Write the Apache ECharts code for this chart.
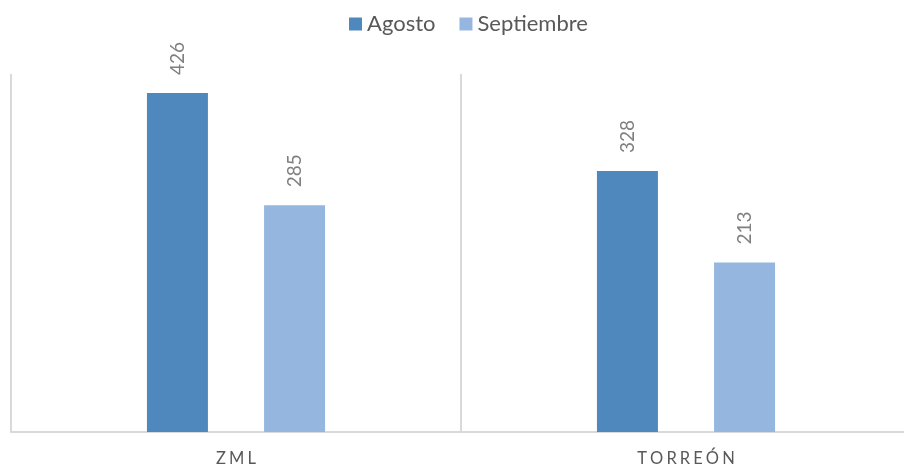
<!DOCTYPE html>
<html><head><meta charset="utf-8">
<script src="https://cdn.jsdelivr.net/npm/echarts@6/dist/echarts.min.js"></script>
<style>html,body{margin:0;padding:0;background:#fff}#c{width:904px;height:470px}</style>
</head><body><div id="c"></div>
<script>
const categories = ['ZML', 'TORREÓN'];
const agosto = [426, 328];
const septiembre = [285, 213];
const seriesNames = ['Agosto', 'Septiembre'];

const chart = echarts.init(document.getElementById('c'));
const labelStyle = {
  show: true, position: 'top', rotate: 90, align: 'left', verticalAlign: 'middle',
  distance: 18, color: '#7f7f7f', fontSize: 19, fontFamily: 'Lato'
};
chart.setOption({
  animation: false,
  textStyle: { fontFamily: 'Lato' },
  legend: {
    top: 8, left: 344, itemWidth: 13, itemHeight: 13, itemGap: 24,
    icon: 'rect',
    textStyle: { color: '#595959', fontSize: 22, fontFamily: 'Lato' },
    data: seriesNames
  },
  grid: { left: 11, width: 900, top: 74, bottom: 38, containLabel: false, outerBoundsMode: 'none' },
  xAxis: {
    type: 'category', data: categories,
    axisLine: { show: true, lineStyle: { color: '#d9d9d9', width: 2 } },
    axisTick: { show: false },
    splitLine: { show: true, lineStyle: { color: '#d9d9d9', width: 2 } },
    axisLabel: { color: '#595959', fontSize: 16.5, margin: 18, fontFamily: 'Lato',
      formatter: v => v.split('').join('\u2009\u200A') }
  },
  yAxis: {
    type: 'value', min: 0, max: 450, show: false,
    splitLine: { show: false }
  },
  series: [
    { name: seriesNames[0], type: 'bar', data: agosto, barWidth: 61, barGap: '92%',
      itemStyle: { color: '#4F88BC' }, label: labelStyle },
    { name: seriesNames[1], type: 'bar', data: septiembre, barWidth: 61,
      itemStyle: { color: '#95B7DF' }, label: labelStyle }
  ]
});
</script></body></html>
